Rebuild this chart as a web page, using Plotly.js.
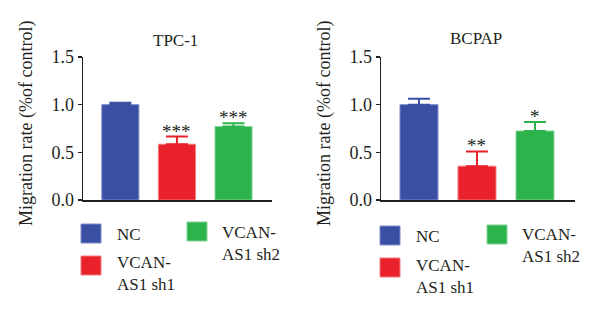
<!DOCTYPE html>
<html>
<head>
<meta charset="utf-8">
<script src="https://cdn.plot.ly/plotly-3.0.1.min.js"></script>
<style>
  html, body { margin: 0; padding: 0; background: #fff; }
  #chart { width: 600px; height: 315px; }
</style>
</head>
<body>
<div id="chart"></div>
<script>
// Migration rate per cell line, relative to NC control
const groups = ['NC', 'VCAN-AS1 sh1', 'VCAN-AS1 sh2'];
const legendLabels = ['NC', 'VCAN-<br>AS1 sh1', 'VCAN-<br>AS1 sh2'];
const colors = ['#3a4ea3', '#e8212b', '#2db34b'];
const edgeColors = ['#7d8cc8', '#f27a7e', '#84d494'];

const panelTitles = ['TPC-1', 'BCPAP'];
const tpc1Values = [1.0, 0.585, 0.77];
const tpc1Errors = [0.02, 0.08, 0.035];
const tpc1Stars = ['', '***', '***'];
const bcpapValues = [1.0, 0.355, 0.724];
const bcpapErrors = [0.063, 0.155, 0.094];
const bcpapStars = ['', '**', '*'];

const yTickVals = [0, 0.5, 1.0, 1.5];
const yTickText = ['0.0', '0.5', '1.0', '1.5'];
const yLabel = 'Migration rate (%of control)';

const serif = 'Liberation Serif, Times New Roman, serif';
const ink = '#231f20';

const panels = [
  { values: tpc1Values, errors: tpc1Errors, stars: tpc1Stars, xa: 'x', ya: 'y' },
  { values: bcpapValues, errors: bcpapErrors, stars: bcpapStars, xa: 'x2', ya: 'y2' }
];

const traces = [];
const annotations = [];

// one trace per bar so each upper error cap takes its bar's colour
panels.forEach(p => {
  groups.forEach((g, i) => {
    traces.push({
      type: 'bar', x: [i], y: [p.values[i]], width: 0.655,
      name: g, xaxis: p.xa, yaxis: p.ya,
      marker: { color: colors[i], line: { color: edgeColors[i], width: 1 } },
      error_y: { type: 'data', symmetric: false, array: [p.errors[i]], arrayminus: [0],
                 color: colors[i], thickness: 2, width: 11 },
      showlegend: false
    });
    if (p.stars[i]) {
      annotations.push({
        xref: p.xa, yref: p.ya, x: i, y: p.values[i] + p.errors[i],
        text: p.stars[i], showarrow: false, yanchor: 'bottom', yshift: -7,
        font: { family: serif, size: 19, color: ink }
      });
    }
  });
});

const axisCommon = {
  showgrid: false, zeroline: false, showline: true,
  linecolor: ink, linewidth: 1.5
};

const yDomain = [1 - 200 / 315, 1 - 57 / 315];
const yAxisStyle = {
  range: [0, 1.5],
  tickvals: yTickVals, ticktext: yTickText, ticks: 'outside', ticklen: 4,
  tickcolor: ink, tickwidth: 1.5,
  tickfont: { family: serif, size: 18, color: ink }
};

const layout = {
  width: 600, height: 315,
  margin: { l: 0, r: 0, t: 0, b: 0 },
  paper_bgcolor: '#fff', plot_bgcolor: '#fff',
  showlegend: false,
  barmode: 'overlay',
  xaxis: Object.assign({}, axisCommon, { domain: [83 / 600, 272 / 600], range: [-0.66, 2.68], showticklabels: false, ticks: '' }),
  xaxis2: Object.assign({}, axisCommon, { domain: [381 / 600, 575 / 600], range: [-0.655, 2.69], showticklabels: false, ticks: '' }),
  yaxis: Object.assign({}, axisCommon, yAxisStyle, { domain: yDomain, anchor: 'x' }),
  yaxis2: Object.assign({}, axisCommon, yAxisStyle, { domain: yDomain, anchor: 'x2' }),
  shapes: [],
  annotations: annotations
};

// panel titles and rotated y labels
const panelGeo = [
  { titleX: 175 / 600, titleY: 1 - 41 / 315, labelX: 27 / 600 },
  { titleX: 476 / 600, titleY: 1 - 38 / 315, labelX: 325 / 600 }
];
panelGeo.forEach((g, pi) => {
  layout.annotations.push({
    xref: 'paper', yref: 'paper', x: g.titleX, y: g.titleY,
    text: panelTitles[pi], showarrow: false, xanchor: 'center', yanchor: 'middle',
    font: { family: serif, size: 17, color: ink }
  });
  layout.annotations.push({
    xref: 'paper', yref: 'paper', x: g.labelX, y: 1 - 124 / 315,
    text: yLabel, showarrow: false, textangle: -90, xanchor: 'center', yanchor: 'middle',
    font: { family: serif, size: 18, color: ink }
  });
});

// legend blocks under each panel
const legendGeo = [
  { boxes: [[81, 224], [81, 256], [187, 222]], texts: [[115, 234], [115, 273], [220, 243]] },
  { boxes: [[380, 226], [380, 258], [487, 225]], texts: [[414, 236], [414, 276], [520, 245]] }
];
legendGeo.forEach(lg => {
  groups.forEach((g, i) => {
    const [bx, by] = lg.boxes[i];
    layout.shapes.push({
      type: 'rect', xref: 'paper', yref: 'paper',
      x0: bx / 600, x1: (bx + 20) / 600, y0: 1 - by / 315, y1: 1 - (by + 19) / 315,
      fillcolor: colors[i], line: { color: edgeColors[i], width: 1 }
    });
    const [tx, ty] = lg.texts[i];
    layout.annotations.push({
      xref: 'paper', yref: 'paper', x: tx / 600, y: 1 - ty / 315,
      text: legendLabels[i], showarrow: false, xanchor: 'left', yanchor: 'middle', align: 'left',
      font: { family: serif, size: 17, color: ink }
    });
  });
});

Plotly.newPlot('chart', traces, layout, { displayModeBar: false, staticPlot: true });
</script>
</body>
</html>
